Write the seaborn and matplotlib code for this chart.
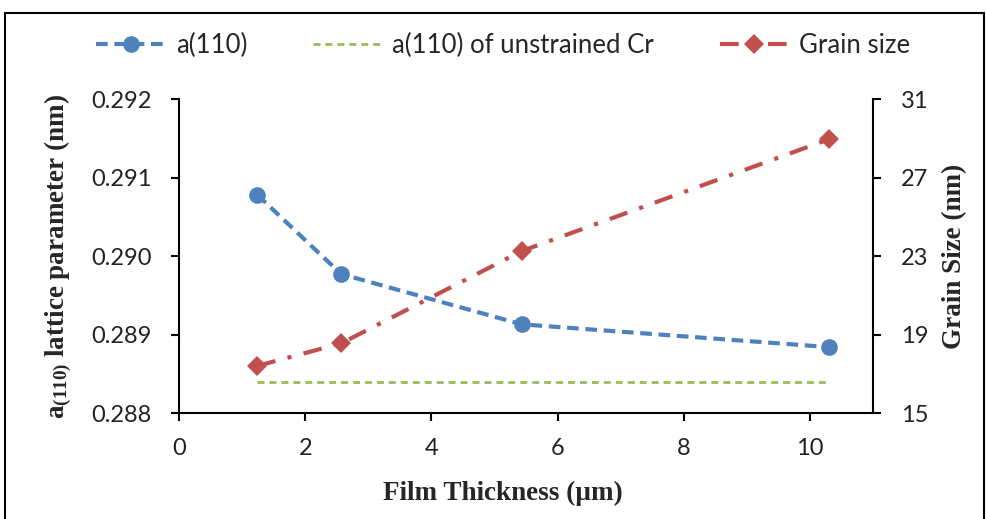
import matplotlib
matplotlib.use("Agg")
import matplotlib.pyplot as plt
from matplotlib.lines import Line2D
from matplotlib.patches import Rectangle
import seaborn as sns

# Film thickness (µm) and measured quantities
thickness = [1.24, 2.57, 5.43, 10.30]
lattice_a110 = [0.29078, 0.28977, 0.28913, 0.28884]
unstrained_a110 = [0.2884, 0.2884, 0.2884, 0.2884]
grain_size = [17.4, 18.55, 23.25, 28.95]

x_ticks = [0, 2, 4, 6, 8, 10]
left_ticks = [0.288, 0.289, 0.290, 0.291, 0.292]
right_ticks = [15, 19, 23, 27, 31]

BLUE = "#4F81BD"
GREEN = "#9BBB59"
RED = "#C0504D"

sns.set_theme(style="white")
plt.rcParams["font.family"] = ["Lato", "DejaVu Sans"]
plt.rcParams["mathtext.fontset"] = "custom"
plt.rcParams["mathtext.rm"] = "Liberation Serif:bold"
plt.rcParams["mathtext.bf"] = "Liberation Serif:bold"

fig = plt.figure(figsize=(9.87, 5.19), dpi=100)
ax = fig.add_axes([0.1814, 0.2042, 0.8845 - 0.1814, 0.8092 - 0.2042])
ax2 = ax.twinx()

sns.lineplot(x=thickness, y=lattice_a110, ax=ax, color=BLUE, lw=3,
             linestyle=(0, (2.8, 1.6)), marker="o", markersize=12,
             markeredgewidth=0, estimator=None, sort=False)
sns.lineplot(x=thickness, y=unstrained_a110, ax=ax, color=GREEN, lw=2,
             linestyle=(0, (2.5, 1.8)), estimator=None, sort=False)
sns.lineplot(x=thickness, y=grain_size, ax=ax2, color=RED, lw=3,
             linestyle=(0, (4.5, 3, 1, 3)), marker="D", markersize=10,
             markeredgewidth=0, estimator=None, sort=False)

ax.set_xlim(0, 11)
ax.set_ylim(0.288, 0.292)
ax2.set_ylim(15, 31)
ax.set_xticks(x_ticks)
ax.set_yticks(left_ticks)
ax.set_yticklabels([f"{v:.3f}" for v in left_ticks])
ax2.set_yticks(right_ticks)
ax2.set_yticklabels([str(v) for v in right_ticks])

for a in (ax, ax2):
    a.grid(False)
    for side, sp in a.spines.items():
        sp.set_color("black")
        sp.set_linewidth(1.5)
    a.spines["top"].set_visible(False)
ax.spines["right"].set_visible(False)
ax2.spines["left"].set_visible(False)
ax2.spines["bottom"].set_visible(False)

ax.tick_params(axis="y", direction="out", length=6, width=1.5,
               color="black", labelsize=17, labelcolor="#222222",
               left=True, pad=14)
ax.tick_params(axis="x", direction="out", length=6, width=1.5,
               color="black", labelsize=17, labelcolor="#222222",
               bottom=True, pad=12)
ax2.tick_params(axis="y", direction="out", length=6, width=1.5,
                color="black", labelsize=17, labelcolor="#222222", right=True,
                pad=14)

ax.set_xlabel("Film Thickness (µm)", family="Liberation Serif",
              fontweight="bold", fontsize=19.5)
ax.xaxis.set_label_coords(0.467, -0.215)
ax.set_ylabel(r"$\mathbf{a_{(110)}}$ lattice parameter (nm)",
              family="Liberation Serif", fontweight="bold", fontsize=19.5,
              labelpad=12)
ax2.set_ylabel("Grain Size (nm)", family="Liberation Serif",
               fontweight="bold", fontsize=19.5, labelpad=10)

handles = [
    Line2D([], [], color=BLUE, lw=3, linestyle=(0, (2.8, 1.6)), marker="o",
           markersize=12, markeredgewidth=0),
    Line2D([], [], color=GREEN, lw=2, linestyle=(0, (2.5, 1.8))),
    Line2D([], [], color=RED, lw=3, linestyle=(0, (4.5, 3, 1, 3)), marker="D",
           markersize=10, markeredgewidth=0),
]
labels = ["a(110)", "a(110) of unstrained Cr", "Grain size"]
fig.legend(handles, labels, loc="center", bbox_to_anchor=(0.51, 0.912),
           ncol=3, frameon=False, fontsize=18.5, handlelength=2.7,
           columnspacing=2.55, handletextpad=0.4)

fig.patches.append(Rectangle((5 / 987, -0.01), 979 / 987, 1 - 13 / 519 + 0.01,
                             transform=fig.transFigure, fill=False,
                             edgecolor="black", lw=1.5))

fig.savefig("out.png", dpi=100)
